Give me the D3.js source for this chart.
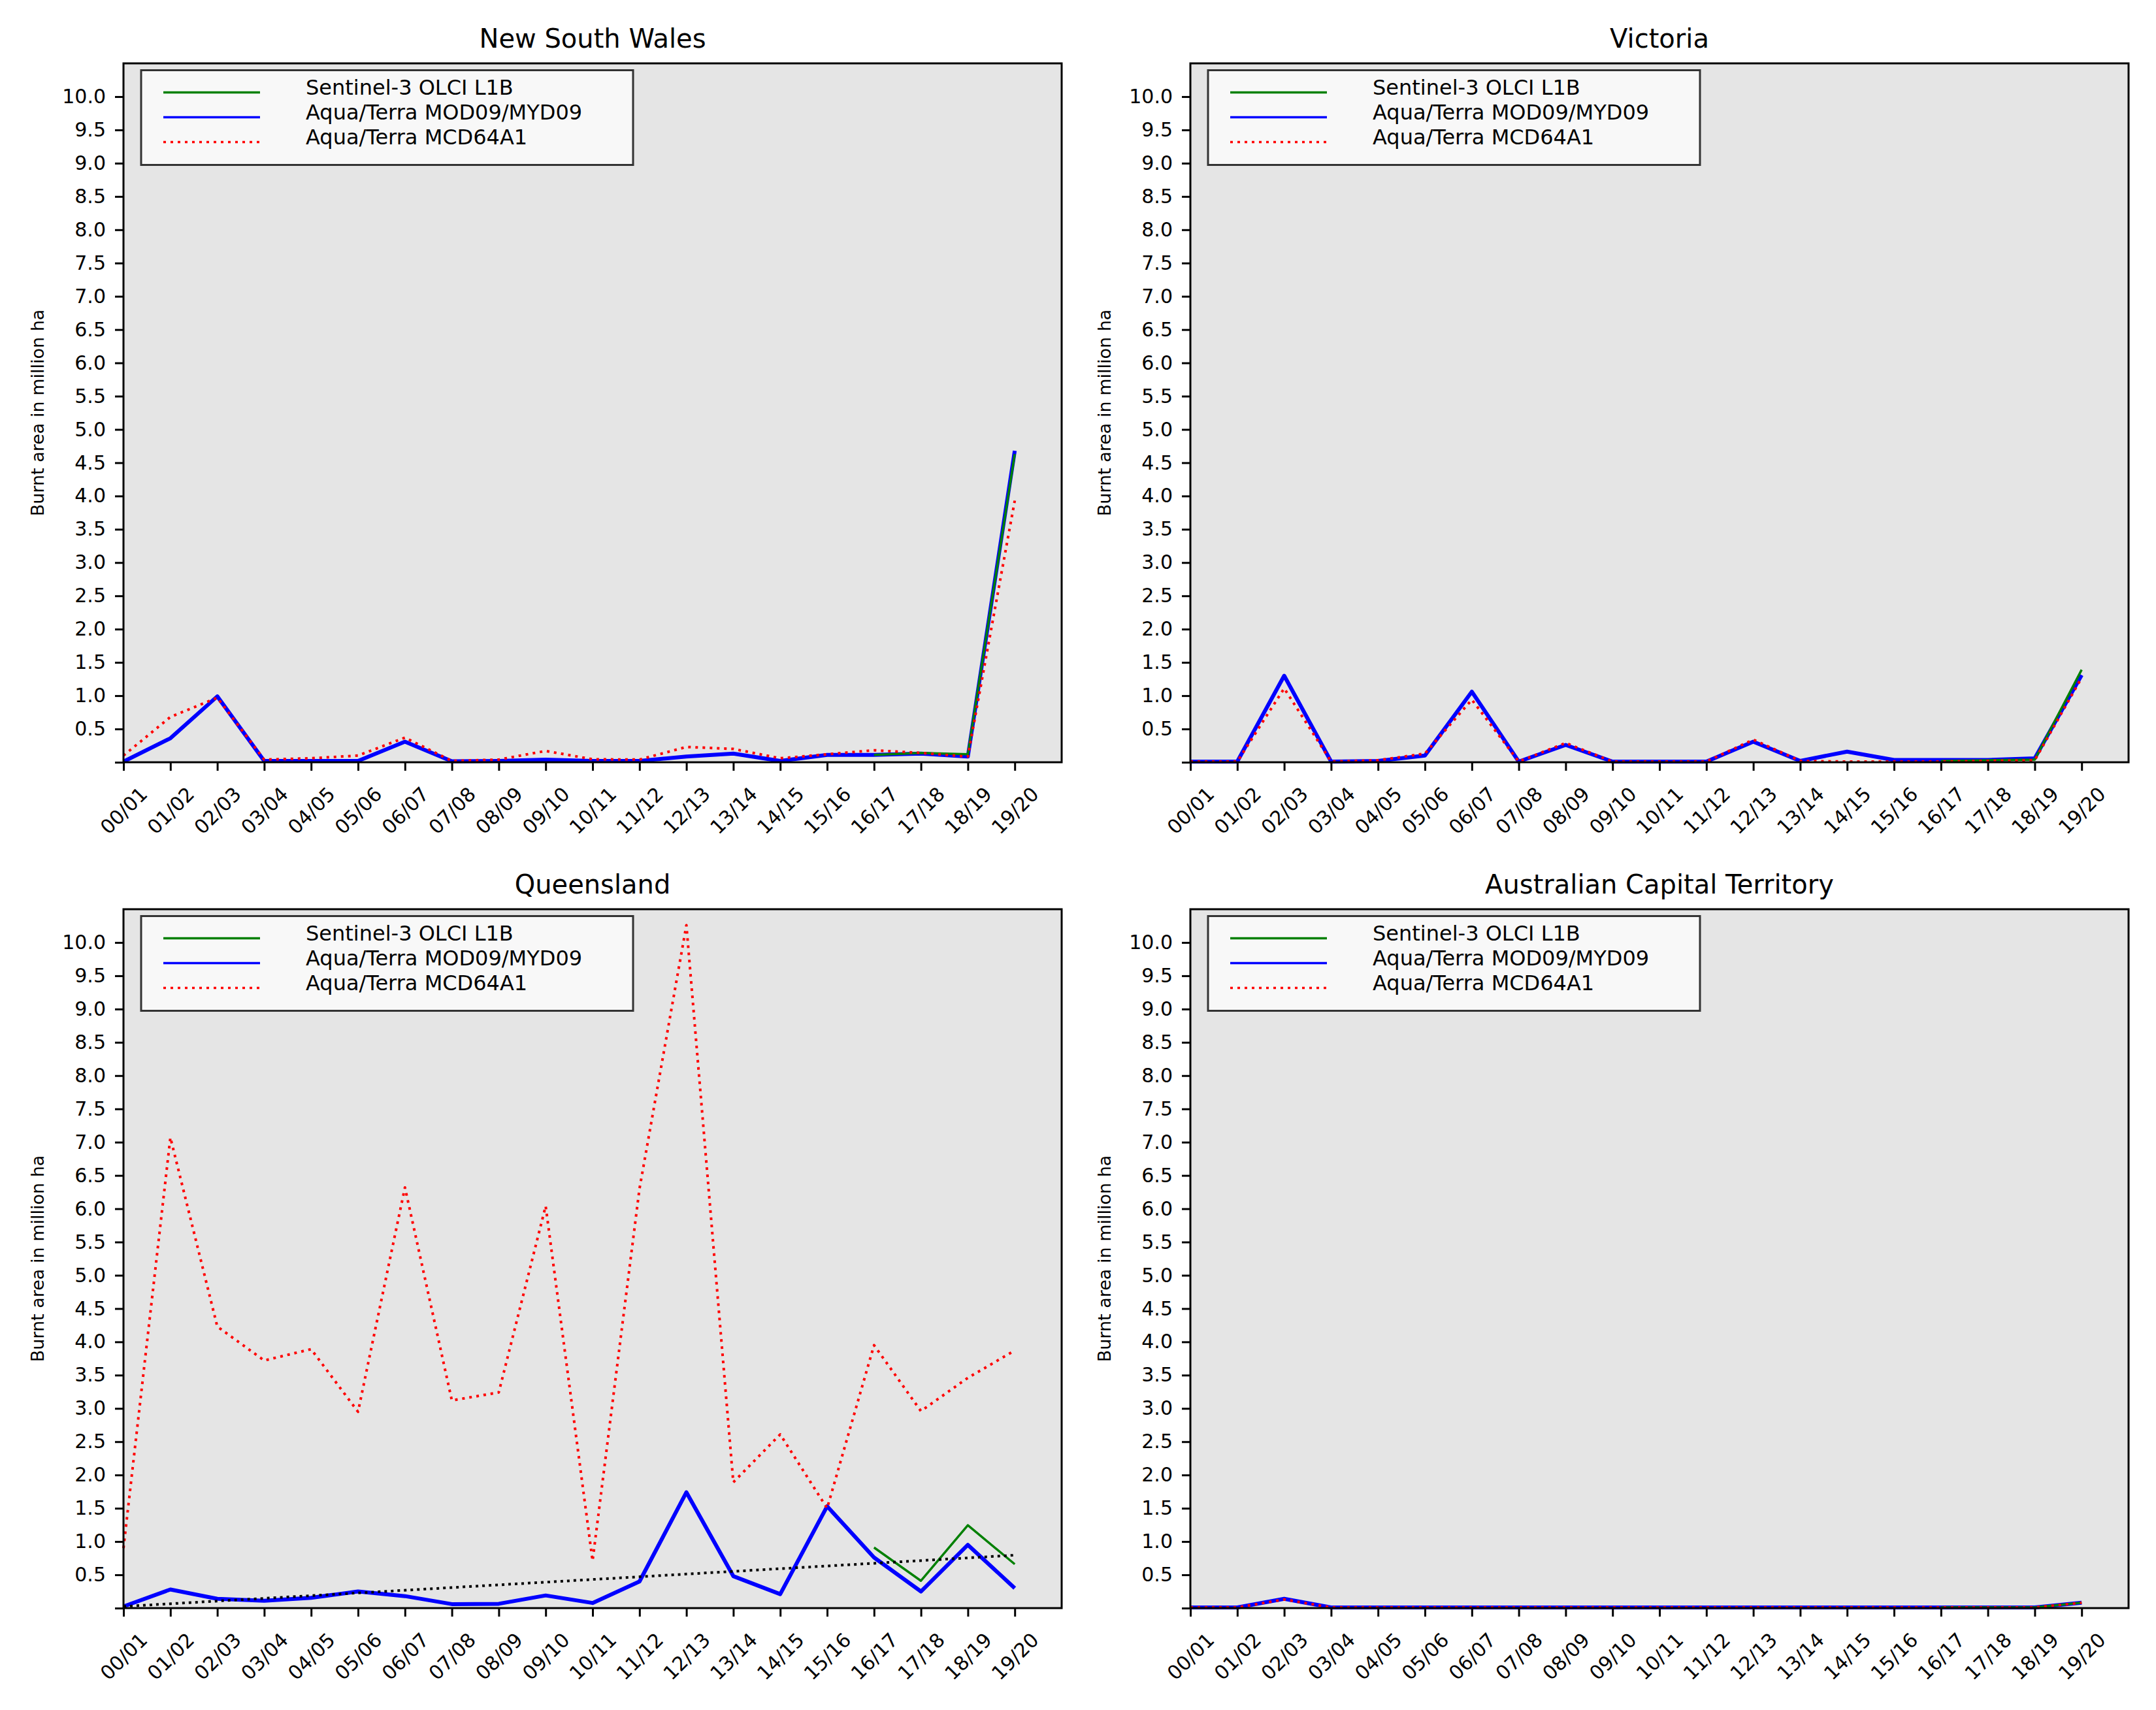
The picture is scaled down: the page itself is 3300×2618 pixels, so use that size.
<!DOCTYPE html>
<html>
<head>
<meta charset="utf-8">
<script src="https://cdn.jsdelivr.net/npm/d3@7"></script>
<style>
  html, body { margin: 0; padding: 0; background: #ffffff; }
  svg { display: block; }
  text { font-family: "DejaVu Sans", sans-serif; fill: #000; }
</style>
</head>
<body>
<svg id="chart" width="3300" height="2618"></svg>
<script>
// ---------------- data ----------------
const seasons = ["00/01","01/02","02/03","03/04","04/05","05/06","06/07","07/08","08/09","09/10",
                 "10/11","11/12","12/13","13/14","14/15","15/16","16/17","17/18","18/19","19/20"];

const seriesNames = ["Sentinel-3 OLCI L1B", "Aqua/Terra MOD09/MYD09", "Aqua/Terra MCD64A1"];

const panelTitles = ["New South Wales", "Victoria", "Queensland", "Australian Capital Territory"];

// New South Wales
const nswSentinel = [null,null,null,null,null,null,null,null,null,null,null,null,null,null,null,null,0.11,0.14,0.12,4.63];
const nswMod09    = [0.01,0.36,0.99,0.02,0.02,0.02,0.31,0.015,0.02,0.04,0.02,0.02,0.085,0.13,0.02,0.11,0.11,0.13,0.085,4.68];
const nswMcd64    = [0.10,0.68,0.97,0.04,0.06,0.10,0.37,0.02,0.04,0.17,0.045,0.04,0.23,0.20,0.06,0.12,0.18,0.14,0.085,3.93];

// Victoria
const vicSentinel = [null,null,null,null,null,null,null,null,null,null,null,null,null,null,null,null,0.02,0.03,0.04,1.39];
const vicMod09    = [0.01,0.01,1.30,0.01,0.02,0.10,1.06,0.01,0.26,0.01,0.01,0.01,0.31,0.02,0.16,0.035,0.035,0.035,0.06,1.31];
const vicMcd64    = [0.01,0.01,1.11,0.01,0.03,0.13,0.94,0.01,0.29,0.01,0.01,0.01,0.34,0.02,0.01,0.01,0.01,0.02,0.03,1.27];

// Queensland
const qldSentinel = [null,null,null,null,null,null,null,null,null,null,null,null,null,null,null,null,0.91,0.41,1.245,0.66];
const qldMod09    = [0.025,0.28,0.14,0.11,0.155,0.25,0.18,0.06,0.065,0.19,0.077,0.40,1.74,0.48,0.21,1.53,0.76,0.25,0.95,0.30];
const qldMcd64    = [0.90,7.07,4.23,3.72,3.89,2.95,6.32,3.12,3.24,6.04,0.71,6.30,10.26,1.89,2.61,1.50,3.95,2.96,3.46,3.87];
const qldTrend    = [0.025, 0.795];   // dotted black trend line, first and last season

// Australian Capital Territory
const actSentinel = [null,null,null,null,null,null,null,null,null,null,null,null,null,null,null,null,0.01,0.01,0.01,0.08];
const actMod09    = [0.01,0.01,0.14,0.01,0.01,0.01,0.01,0.01,0.01,0.01,0.01,0.01,0.01,0.01,0.01,0.01,0.01,0.01,0.01,0.08];
const actMcd64    = [0.01,0.01,0.13,0.01,0.01,0.01,0.01,0.01,0.01,0.01,0.01,0.01,0.01,0.01,0.01,0.01,0.01,0.01,0.01,0.08];

const yTickValues = [0,0.5,1,1.5,2,2.5,3,3.5,4,4.5,5,5.5,6,6.5,7,7.5,8,8.5,9,9.5,10];
const yTickLabels = ["","0.5","1.0","1.5","2.0","2.5","3.0","3.5","4.0","4.5","5.0","5.5","6.0","6.5","7.0","7.5","8.0","8.5","9.0","9.5","10.0"];

// ---------------- layout ----------------
const axW = 1436, axH = 1070;
const panelPos = [
  {left: 189,  top: 97},
  {left: 1822, top: 97},
  {left: 189,  top: 1392},
  {left: 1822, top: 1392}
];

const panels = [
  {title: panelTitles[0], sentinel: nswSentinel, mod09: nswMod09, mcd64: nswMcd64, trend: null},
  {title: panelTitles[1], sentinel: vicSentinel, mod09: vicMod09, mcd64: vicMcd64, trend: null},
  {title: panelTitles[2], sentinel: qldSentinel, mod09: qldMod09, mcd64: qldMcd64, trend: qldTrend},
  {title: panelTitles[3], sentinel: actSentinel, mod09: actMod09, mcd64: actMcd64, trend: null}
];

const svg = d3.select("#chart");
svg.append("rect").attr("width", 3300).attr("height", 2618).attr("fill", "#ffffff");

panels.forEach((p, i) => {
  const pos = panelPos[i];
  const g = svg.append("g").attr("transform", `translate(${pos.left},${pos.top})`);

  const x = d3.scaleLinear().domain([0, seasons.length]).range([0, axW]);
  const y = d3.scaleLinear().domain([0, 10.5]).range([axH, 0]);

  // background
  g.append("rect").attr("width", axW).attr("height", axH).attr("fill", "#e5e5e5");

  // lines
  const line = d3.line()
    .defined(d => d != null)
    .x((d, k) => x(k))
    .y(d => y(d));

  g.append("path").datum(p.mod09).attr("d", line)
    .attr("fill", "none").attr("stroke", "#0000ff").attr("stroke-width", 6)
    .attr("stroke-linejoin", "round");
  g.append("path").datum(p.sentinel).attr("d", line)
    .attr("fill", "none").attr("stroke", "#008000").attr("stroke-width", 3.5)
    .attr("stroke-linejoin", "round");
  g.append("path").datum(p.mcd64).attr("d", line)
    .attr("fill", "none").attr("stroke", "#ff0000").attr("stroke-width", 4)
    .attr("stroke-dasharray", "4,7").attr("stroke-linejoin", "round");

  if (p.trend) {
    const tline = d3.line()
      .x((d, k) => x(k === 0 ? 0 : seasons.length - 1))
      .y(d => y(d));
    g.append("path").datum(p.trend).attr("d", tline)
      .attr("fill", "none").attr("stroke", "#000000").attr("stroke-width", 4)
      .attr("stroke-dasharray", "4,6");
  }

  // axes
  const yAxis = d3.axisLeft(y)
    .tickValues(yTickValues)
    .tickFormat((d, k) => yTickLabels[k])
    .tickSize(13).tickSizeOuter(0).tickPadding(14);
  const ya = g.append("g").call(yAxis);
  ya.select(".domain").remove();
  ya.selectAll(".tick line").attr("stroke", "#000").attr("stroke-width", 3);
  ya.selectAll(".tick text").attr("font-size", 30).attr("font-family", "DejaVu Sans").attr("fill", "#000");

  const xAxis = d3.axisBottom(x)
    .tickValues(d3.range(seasons.length))
    .tickFormat(k => seasons[k])
    .tickSize(13).tickSizeOuter(0);
  const xa = g.append("g").attr("transform", `translate(0,${axH})`).call(xAxis);
  xa.select(".domain").remove();
  xa.selectAll(".tick line").attr("stroke", "#000").attr("stroke-width", 3);
  xa.selectAll(".tick text")
    .attr("font-size", 30).attr("font-family", "DejaVu Sans").attr("fill", "#000")
    .attr("y", null).attr("dy", "0.35em")
    .attr("text-anchor", "middle")
    .attr("transform", "translate(0,74) rotate(-45)");

  // spines
  g.append("rect").attr("width", axW).attr("height", axH)
    .attr("fill", "none").attr("stroke", "#000").attr("stroke-width", 3);

  // title
  g.append("text").attr("x", axW / 2).attr("y", -24)
    .attr("text-anchor", "middle").attr("font-size", 40).text(p.title);

  // y label
  g.append("text")
    .attr("transform", `translate(-122,${axH / 2}) rotate(-90)`)
    .attr("text-anchor", "middle").attr("font-size", 27)
    .text("Burnt area in million ha");

  // legend
  const lg = g.append("g").attr("transform", "translate(27,10.5)");
  lg.append("rect").attr("width", 753).attr("height", 145)
    .attr("fill", "#f8f8f8").attr("stroke", "#333333").attr("stroke-width", 3);
  const legendStyles = [
    {color: "#008000", dash: null},
    {color: "#0000ff", dash: null},
    {color: "#ff0000", dash: "4,7"}
  ];
  seriesNames.forEach((name, k) => {
    const ly = 34 + k * 38;
    const ln = lg.append("line").attr("x1", 34).attr("x2", 182).attr("y1", ly).attr("y2", ly)
      .attr("stroke", legendStyles[k].color).attr("stroke-width", 3.5);
    if (legendStyles[k].dash) ln.attr("stroke-dasharray", legendStyles[k].dash);
    lg.append("text").attr("x", 252).attr("y", ly + 3.5)
      .attr("font-size", 32).text(name);
  });
});
</script>
</body>
</html>
